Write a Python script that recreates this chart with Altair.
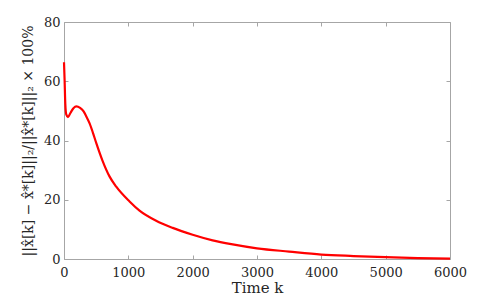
import altair as alt
import pandas as pd

k_vals = [0, 10, 20, 35, 62, 100, 150, 192, 250, 305, 347, 398, 450, 502, 595, 709, 812,
          1019, 1174, 1432, 1690, 2000, 2310, 2600, 3000, 3500, 4000, 4500, 5000, 5500, 6000]
err_vals = [66.4, 60.0, 52.5, 48.8, 47.9, 49.3, 51.0, 51.5, 51.0, 49.8, 48.1, 45.8, 42.6,
            39.1, 33.4, 27.8, 24.4, 19.4, 16.3, 12.9, 10.5, 8.2, 6.3, 5.0, 3.6, 2.5, 1.5,
            1.0, 0.6, 0.3, 0.1]
x_ticks = [0, 1000, 2000, 3000, 4000, 5000, 6000]
y_ticks = [0, 20, 40, 60, 80]

df = pd.DataFrame({"k": k_vals, "err": err_vals})

W, H = 386, 237
GRAY = "#a6a6a6"
FONT = "DejaVu Serif"
xs = alt.Scale(domain=[0, 6000], nice=False, zero=False)
ys = alt.Scale(domain=[0, 80], nice=False)

line = alt.Chart(df).mark_line(color="#ff0000", strokeWidth=2.2, interpolate="monotone")

main = line.encode(
    x=alt.X("k:Q", scale=xs, axis=alt.Axis(
        values=x_ticks, format="d", ticks=False, domain=False, grid=False, labelPadding=7,
        labelFlush=False, labelFont=FONT, titleFont=FONT,
        title="Time k", titlePadding=1, labelFontSize=13, titleFontSize=15)),
    y=alt.Y("err:Q", scale=ys, axis=alt.Axis(
        values=y_ticks, format="d", ticks=False, domain=False, grid=False, labelPadding=4,
        labelFlush=False, labelFont=FONT, titleFont=FONT,
        title="||x̂[k] − x̂*[k]||₂/||x̂*[k]||₂ × 100%", titlePadding=8,
        labelFontSize=13, titleFontSize=14)),
)

ticks_b = line.mark_line(opacity=0).encode(
    x=alt.X("k:Q", scale=xs, axis=alt.Axis(
        orient="top", offset=-H, values=x_ticks, labels=False, domain=False,
        grid=False, ticks=True, tickSize=4, title="")),
    y=alt.Y("err:Q", scale=ys, axis=alt.Axis(
        orient="right", offset=-W, values=y_ticks, labels=False, domain=False,
        grid=False, ticks=True, tickSize=4, title="")),
)

ticks_t = line.mark_line(opacity=0).encode(
    x=alt.X("k:Q", scale=xs, axis=alt.Axis(
        orient="bottom", offset=-H, values=x_ticks, labels=False, domain=False,
        grid=False, ticks=True, tickSize=4, title="")),
    y=alt.Y("err:Q", scale=ys, axis=alt.Axis(
        orient="left", offset=-W, values=y_ticks, labels=False, domain=False,
        grid=False, ticks=True, tickSize=4, title="")),
)

chart = alt.layer(main, ticks_b, ticks_t).resolve_scale(
    x="independent", y="independent"
).properties(
    width=W, height=H,
    background="white",
    autosize=alt.AutoSizeParams(type="none"),
    padding={"left": 56, "top": 14, "right": 40, "bottom": 36},
).configure_view(
    stroke=GRAY, strokeWidth=1
).configure_axis(
    labelColor="#262626", titleColor="#262626",
    titleFontWeight="normal", tickColor=GRAY, tickWidth=1
)

chart.save("out.html", embed_options={"renderer": "svg", "actions": False})
